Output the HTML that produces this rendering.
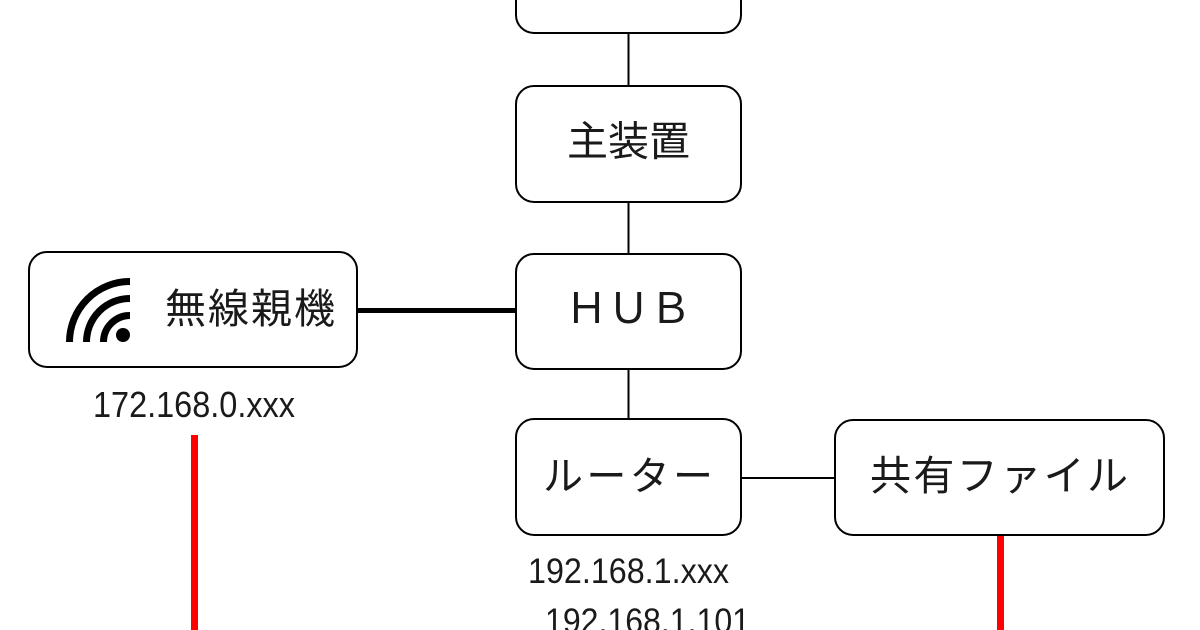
<!DOCTYPE html>
<html>
<head>
<meta charset="utf-8">
<style>
  html,body{margin:0;padding:0;background:#fff;}
  svg{display:block;}
  .jp{font-family:"Liberation Sans","Noto Sans CJK JP",sans-serif;fill:#1a1a1a;}
  .ip{font-family:"Liberation Sans","Noto Sans CJK JP",sans-serif;fill:#1a1a1a;}
</style>
</head>
<body>
<svg width="1200" height="630" viewBox="0 0 1200 630" xmlns="http://www.w3.org/2000/svg">
  <rect x="0" y="0" width="1200" height="630" fill="#fff"/>

  <!-- connectors -->
  <g stroke="#000" fill="none">
    <line x1="628.5" y1="33" x2="628.5" y2="86" stroke-width="2"/>
    <line x1="628.5" y1="202" x2="628.5" y2="254" stroke-width="2"/>
    <line x1="628.5" y1="369" x2="628.5" y2="419" stroke-width="2"/>
    <line x1="357" y1="310.5" x2="516" y2="310.5" stroke-width="5"/>
    <line x1="741" y1="478" x2="835" y2="478" stroke-width="2"/>
  </g>
  <g stroke="#ff0000" fill="none" stroke-width="7">
    <line x1="194.5" y1="435" x2="194.5" y2="630"/>
    <line x1="1000.5" y1="536" x2="1000.5" y2="630"/>
  </g>

  <!-- boxes -->
  <g fill="#fff" stroke="#000" stroke-width="2">
    <rect x="516" y="-82" width="225" height="115" rx="18" ry="18"/>
    <rect x="516" y="86" width="225" height="116" rx="18" ry="18"/>
    <rect x="516" y="254" width="225" height="115" rx="18" ry="18"/>
    <rect x="29" y="252" width="328" height="115" rx="18" ry="18"/>
    <rect x="516" y="419" width="225" height="116" rx="18" ry="18"/>
    <rect x="835" y="420" width="329" height="115" rx="18" ry="18"/>
  </g>

  <!-- wifi icon -->
  <g stroke="#000" stroke-width="7" fill="none">
    <path d="M69.5 342 A60.5 60.5 0 0 1 130 281.5"/>
    <path d="M86.5 342 A43.5 43.5 0 0 1 130 298.5"/>
    <path d="M103.5 342 A26.5 26.5 0 0 1 130 315.5"/>
  </g>
  <circle cx="123" cy="335" r="7" fill="#000"/>

  <!-- labels -->
  <text class="jp" x="628.5" y="141.5" font-size="41" text-anchor="middle" dominant-baseline="central">主装置</text>
  <text class="jp" x="165" y="309" font-size="41" dominant-baseline="central" textLength="170" lengthAdjust="spacing">無線親機</text>
  <text class="jp" x="628.5" y="323" font-size="42" text-anchor="middle">ＨＵＢ</text>
  <text class="jp" x="543" y="477" font-size="40" dominant-baseline="central" textLength="170" lengthAdjust="spacing">ルーター</text>
  <text class="jp" x="870" y="476" font-size="41" dominant-baseline="central" textLength="258" lengthAdjust="spacing">共有ファイル</text>

  <text class="ip" x="93" y="417" font-size="36" textLength="202" lengthAdjust="spacingAndGlyphs">172.168.0.xxx</text>
  <text class="ip" x="528" y="583" font-size="35" textLength="201" lengthAdjust="spacingAndGlyphs">192.168.1.xxx</text>
  <text class="ip" x="545" y="633" font-size="35" textLength="205" lengthAdjust="spacingAndGlyphs">192.168.1.101</text>
</svg>
</body>
</html>
